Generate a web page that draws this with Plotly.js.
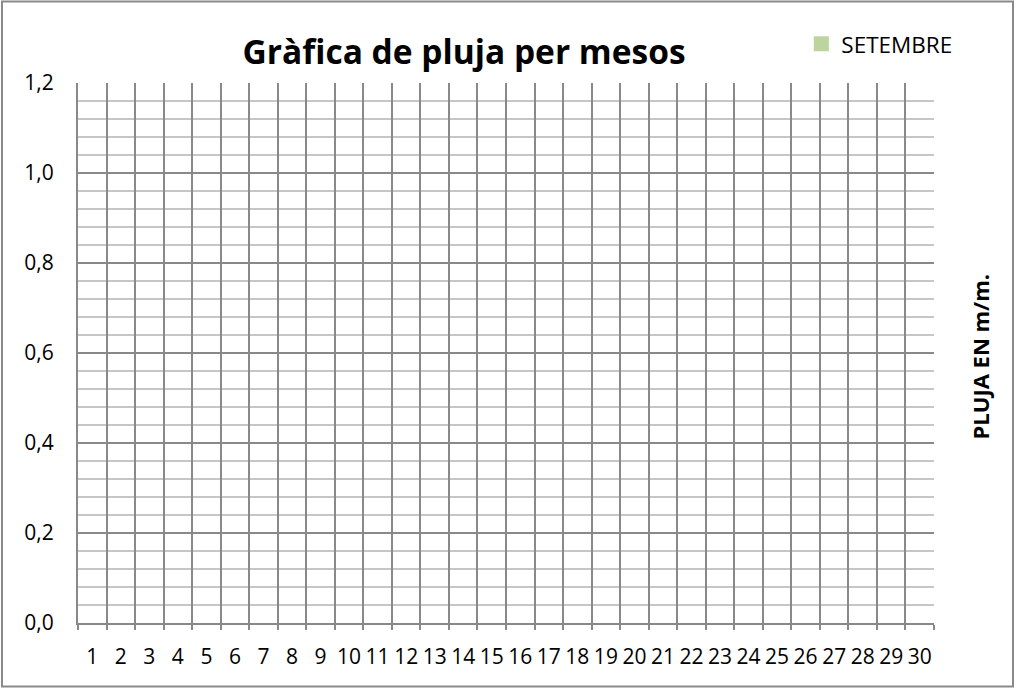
<!DOCTYPE html>
<html>
<head>
<meta charset="utf-8">
<script src="https://cdn.plot.ly/plotly-3.0.1.min.js"></script>
<style>
html,body{margin:0;padding:0;background:#fff;}
#chart{width:1017px;height:688px;}
</style>
</head>
<body>
<div id="chart"></div>
<script>
var days = ["1","2","3","4","5","6","7","8","9","10","11","12","13","14","15","16","17","18","19","20","21","22","23","24","25","26","27","28","29","30"];
var setembre = [null,null,null,null,null,null,null,null,null,null,null,null,null,null,null,null,null,null,null,null,null,null,null,null,null,null,null,null,null,null];
var seriesName = "SETEMBRE";
var chartTitle = "Gràfica de pluja per mesos";
var yTitle = "PLUJA EN m/m.";

var FONT = "Open Sans, Liberation Sans, sans-serif";
var MAJOR = "#898989";
var MINOR = "#c6c6c6";
var GREEN = "#bcd59e";

var trace = {
  type: "bar",
  x: days,
  y: setembre,
  name: seriesName,
  marker: {color: GREEN, line: {color: GREEN, width: 3}},
  showlegend: true
};

var layout = {
  width: 1017,
  height: 688,
  margin: {l: 78, r: 83, t: 83, b: 65, pad: 0},
  paper_bgcolor: "#ffffff",
  plot_bgcolor: "#ffffff",
  separators: ",.",
  font: {family: FONT, color: "#000000"},
  title: {
    text: "<b>" + chartTitle + "</b>",
    font: {family: FONT, size: 33.5, color: "#000000"},
    x: 0.451, xanchor: "center", xref: "paper",
    y: 0.924, yanchor: "middle", yref: "container"
  },
  showlegend: true,
  legend: {
    x: 0.845, xanchor: "left", xref: "paper",
    y: 1.072, yanchor: "middle", yref: "paper",
    font: {family: FONT, size: 22.5, color: "#000000"},
    bgcolor: "rgba(0,0,0,0)",
    itemwidth: 30
  },
  xaxis: {
    type: "category",
    range: [-0.5, 29.5],
    tickson: "boundaries",
    ticks: "outside",
    ticklen: 5,
    tickwidth: 2,
    tickcolor: MAJOR,
    showgrid: true,
    gridcolor: MAJOR,
    gridwidth: 2,
    showline: true,
    linecolor: MAJOR,
    linewidth: 2,
    tickfont: {family: FONT, size: 21, color: "#000000"},
    tickangle: 0,
    ticklabelstandoff: 14,
    zeroline: false,
    fixedrange: true
  },
  yaxis: {
    range: [0, 1.2],
    dtick: 0.2,
    tick0: 0,
    tickformat: ".1f",
    ticks: "",
    showgrid: true,
    gridcolor: MAJOR,
    gridwidth: 2,
    showline: true,
    linecolor: MAJOR,
    linewidth: 2,
    zeroline: false,
    ticklabelstandoff: 18,
    tickfont: {family: FONT, size: 21, color: "#000000"},
    minor: {dtick: 0.04, showgrid: true, gridcolor: MINOR, gridwidth: 2, ticks: ""},
    fixedrange: true
  },
  annotations: [{
    text: "<b>" + yTitle + "</b>",
    textangle: -90,
    xref: "paper", yref: "paper",
    x: 1.054, y: 0.494,
    xanchor: "center", yanchor: "middle",
    showarrow: false,
    font: {family: FONT, size: 22, color: "#000000"}
  }],
  shapes: [{
    type: "rect",
    xref: "paper", yref: "paper",
    x0: -0.0888, x1: 1.0923, y0: -0.1176, y1: 1.1509,
    line: {color: MAJOR, width: 2},
    fillcolor: "rgba(0,0,0,0)",
    layer: "above"
  }]
};

Plotly.newPlot("chart", [trace], layout, {displayModeBar: false, staticPlot: true});
</script>
</body>
</html>
